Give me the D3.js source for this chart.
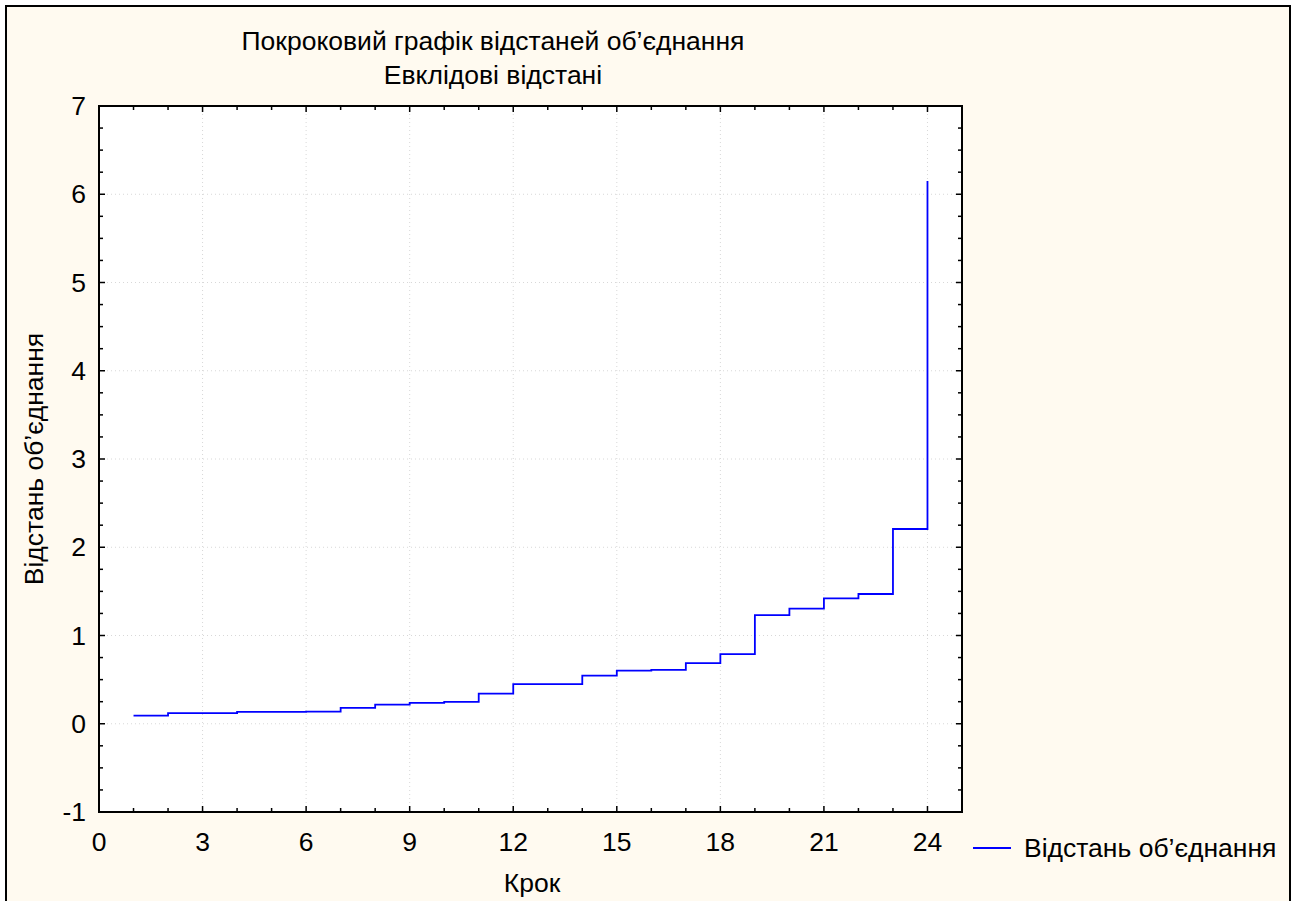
<!DOCTYPE html>
<html><head><meta charset="utf-8">
<script src="https://cdn.jsdelivr.net/npm/d3@7"></script>
<style>body{margin:0;background:#fff;} text{font-family:Arial,"Liberation Sans",sans-serif;fill:#000;}</style>
</head><body>
<svg id="c" width="1298" height="901"></svg>
<script>
const steps = [1,2,3,4,5,6,7,8,9,10,11,12,13,14,15,16,17,18,19,20,21,22,23,24];
const distances = [0.093,0.12,0.12,0.134,0.135,0.138,0.18,0.217,0.236,0.247,0.342,0.448,0.448,0.546,0.603,0.61,0.686,0.788,1.23,1.305,1.42,1.47,2.207,6.15];
const xTicks = [0,3,6,9,12,15,18,21,24];
const yTicks = [-1,0,1,2,3,4,5,6,7];
const title1 = "Покроковий графік відстаней об’єднання";
const title2 = "Евклідові відстані";
const xLabel = "Крок";
const yLabel = "Відстань об’єднання";
const legendLabel = "Відстань об’єднання";

const FS = 26.5;
const svg = d3.select("#c");
svg.append("rect").attr("x",0).attr("y",0).attr("width",1298).attr("height",901).attr("fill","#fff");
svg.append("rect").attr("x",6).attr("y",6).attr("width",1284).attr("height",900)
  .attr("fill","#FFFAF0").attr("stroke","#000").attr("stroke-width",2);

const L=99, R=962, T=106, B=812;
const x = d3.scaleLinear().domain([0,25]).range([L,R]);
const y = d3.scaleLinear().domain([-1,7]).range([B,T]);

svg.append("rect").attr("x",L).attr("y",T).attr("width",R-L).attr("height",B-T).attr("fill","#fff");

// grid
const g = svg.append("g");
g.selectAll(".gx").data(xTicks.filter(d=>d>0)).enter().append("line")
  .attr("x1",d=>x(d)).attr("x2",d=>x(d)).attr("y1",T).attr("y2",B)
  .attr("stroke","#d8d8d8").attr("stroke-dasharray","1,3");
g.selectAll(".gy").data(yTicks.filter(d=>d>-1&&d<7)).enter().append("line")
  .attr("y1",d=>y(d)).attr("y2",d=>y(d)).attr("x1",L).attr("x2",R)
  .attr("stroke","#d8d8d8").attr("stroke-dasharray","1,3");

// ticks inward on all sides
const xMinor = d3.range(0,26,1);
const yMinor = d3.range(-1,7.001,0.25);
const tk = svg.append("g").attr("stroke","#000").attr("stroke-width",1.5);
xMinor.forEach(v=>{
  const len = (v%3===0)?6:4;
  tk.append("line").attr("x1",x(v)).attr("x2",x(v)).attr("y1",B).attr("y2",B-len);
  tk.append("line").attr("x1",x(v)).attr("x2",x(v)).attr("y1",T).attr("y2",T+len);
});
yMinor.forEach(v=>{
  const len = (Math.abs(v-Math.round(v))<1e-6)?6:4;
  tk.append("line").attr("y1",y(v)).attr("y2",y(v)).attr("x1",L).attr("x2",L+len);
  tk.append("line").attr("y1",y(v)).attr("y2",y(v)).attr("x1",R).attr("x2",R-len);
});

// data line
const line = d3.line().x((d,i)=>x(steps[i])).y(d=>y(d)).curve(d3.curveStepAfter);
svg.append("path").datum(distances).attr("d",line).attr("fill","none")
  .attr("stroke","#0000FF").attr("stroke-width",1.8);

// frame
svg.append("rect").attr("x",L).attr("y",T).attr("width",R-L).attr("height",B-T)
  .attr("fill","none").attr("stroke","#000").attr("stroke-width",2);

// tick labels
svg.selectAll(".xl").data(xTicks).enter().append("text")
  .attr("x",d=>x(d)).attr("y",851).attr("text-anchor","middle").attr("font-size",FS).text(d=>d);
svg.selectAll(".yl").data(yTicks).enter().append("text")
  .attr("x",86).attr("y",d=>y(d)+9).attr("text-anchor","end").attr("font-size",FS).text(d=>d);

// titles
svg.append("text").attr("x",493).attr("y",50).attr("text-anchor","middle").attr("font-size",FS).text(title1);
svg.append("text").attr("x",493).attr("y",84).attr("text-anchor","middle").attr("font-size",FS).text(title2);
svg.append("text").attr("x",532).attr("y",892).attr("text-anchor","middle").attr("font-size",FS).text(xLabel);
svg.append("text").attr("transform",`translate(43,${(T+B)/2}) rotate(-90)`).attr("text-anchor","middle").attr("font-size",FS).text(yLabel);

// legend
svg.append("line").attr("x1",973).attr("x2",1011).attr("y1",848).attr("y2",848).attr("stroke","#0000FF").attr("stroke-width",1.8);
svg.append("text").attr("x",1024).attr("y",857).attr("font-size",FS).text(legendLabel);
</script>
</body></html>
